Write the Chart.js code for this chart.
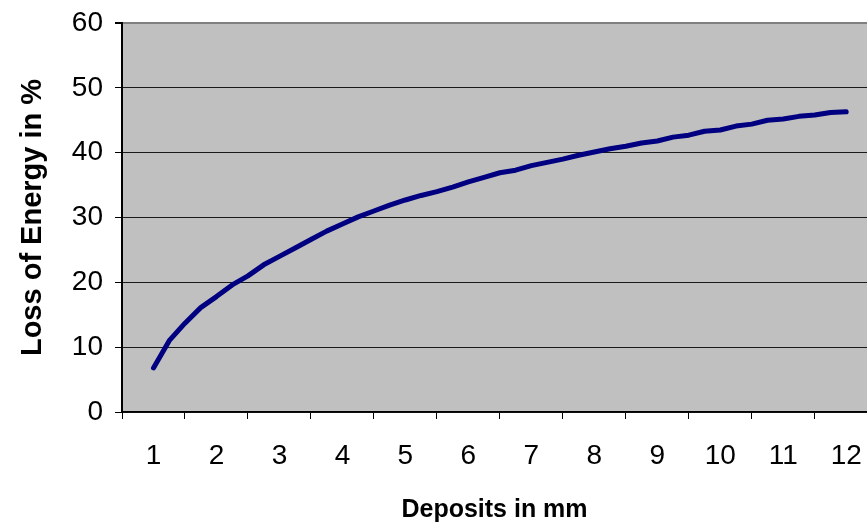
<!DOCTYPE html>
<html>
<head>
<meta charset="utf-8">
<title>Loss of Energy</title>
<script src="https://cdn.jsdelivr.net/npm/chart.js@4.4.1/dist/chart.umd.min.js"></script>
<style>
    body { margin: 0; background: #ffffff; overflow: hidden; }
    #myChart { display: block; }
</style>
</head>
<body>
<canvas id="myChart" width="867" height="527"></canvas>
<script>
const deposits = [1, 1.25, 1.5, 1.75, 2, 2.25, 2.5, 2.75, 3, 3.25, 3.5, 3.75, 4, 4.25, 4.5, 4.75,
    5, 5.25, 5.5, 5.75, 6, 6.25, 6.5, 6.75, 7, 7.25, 7.5, 7.75, 8, 8.25, 8.5, 8.75,
    9, 9.25, 9.5, 9.75, 10, 10.25, 10.5, 10.75, 11, 11.25, 11.5, 11.75, 12]
const lossEnergy = [6.8, 11.0, 13.7, 16.1, 17.8, 19.6, 21.0, 22.7, 24.0, 25.3, 26.6, 27.9, 29.0, 30.1, 31.0, 31.9,
    32.7, 33.4, 34.0, 34.7, 35.5, 36.2, 36.9, 37.3, 38.0, 38.5, 39.0, 39.6, 40.1, 40.6, 41.0, 41.5,
    41.8, 42.4, 42.7, 43.3, 43.5, 44.1, 44.4, 45.0, 45.2, 45.6, 45.8, 46.2, 46.3]
const xTickLabels = [1, 2, 3, 4, 5, 6, 7, 8, 9, 10, 11, 12]
const yTickLabels = [0, 10, 20, 30, 40, 50, 60]

const fontTicks = { family: "'Liberation Sans', Arial, sans-serif", size: 28 }
const fontTitleX = { family: "'Liberation Sans', Arial, sans-serif", size: 25, weight: "bold" }
const fontTitleY = { family: "'Liberation Sans', Arial, sans-serif", size: 29, weight: "bold" }

// gray plot area like the old excel chart
const plotBg = {
    id: "plotBg",
    beforeDraw: (chart) => {
        const { ctx, chartArea } = chart
        ctx.save()
        ctx.fillStyle = "#C0C0C0"
        ctx.fillRect(chartArea.left, chartArea.top, chartArea.right - chartArea.left, chartArea.bottom - chartArea.top)
        ctx.restore()
    }
}

const puntos = deposits.map((d, i) => ({ x: d, y: lossEnergy[i] }))

const ctx = document.getElementById("myChart").getContext("2d")
const myChart = new Chart(ctx, {
    type: "line",
    data: {
        datasets: [{
            data: puntos,
            borderColor: "#000080",
            borderWidth: 5,
            tension: 0,
            pointRadius: 0,
            borderCapStyle: "round",
            borderJoinStyle: "round",
            fill: false
        }]
    },
    options: {
        responsive: false,
        animation: false,
        devicePixelRatio: 1,
        layout: { padding: { top: 23, right: 0, bottom: 0, left: 0 } },
        plugins: {
            legend: { display: false },
            tooltip: { enabled: false }
        },
        scales: {
            x: {
                type: "linear",
                min: 0.5,
                max: 12.33,
                afterBuildTicks: (scale) => {
                    // labels at whole numbers, tick marks half way between them
                    const t = []
                    xTickLabels.forEach(v => {
                        t.push({ value: v - 0.5 })
                        t.push({ value: v })
                    })
                    scale.ticks = t
                },
                afterFit: (scale) => {
                    scale.height = 115
                    scale.paddingLeft = 0
                    scale.paddingRight = 0
                },
                grid: {
                    drawOnChartArea: false,
                    tickLength: 7,
                    tickColor: (c) => Number.isInteger(c.tick.value) ? "rgba(0,0,0,0)" : "#000000"
                },
                border: { color: "#000000", width: 1.5 },
                ticks: {
                    autoSkip: false,
                    maxRotation: 0,
                    color: "#000000",
                    font: fontTicks,
                    padding: 20,
                    callback: (v) => Number.isInteger(v) ? String(v) : ""
                },
                title: {
                    display: true,
                    text: "Deposits in mm",
                    color: "#000000",
                    font: fontTitleX,
                    padding: { top: 0, bottom: 2 }
                }
            },
            y: {
                min: 0,
                max: 60,
                afterBuildTicks: (scale) => {
                    scale.ticks = yTickLabels.map(v => ({ value: v }))
                },
                afterFit: (scale) => {
                    scale.width = 122
                    scale.paddingTop = 0
                    scale.paddingBottom = 0
                },
                grid: {
                    color: (c) => c.tick.value === 60 ? "#808080" : "#1a1a1a",
                    lineWidth: (c) => c.tick.value === 60 ? 2 : 1,
                    tickLength: 7,
                    tickColor: "#000000"
                },
                border: { color: "#000000", width: 2 },
                ticks: {
                    color: "#000000",
                    font: fontTicks,
                    padding: 12
                },
                title: {
                    display: true,
                    text: "Loss of Energy in %",
                    color: "#000000",
                    font: fontTitleY,
                    padding: { top: 16, bottom: 0 }
                }
            }
        }
    },
    plugins: [plotBg]
})
</script>
</body>
</html>
